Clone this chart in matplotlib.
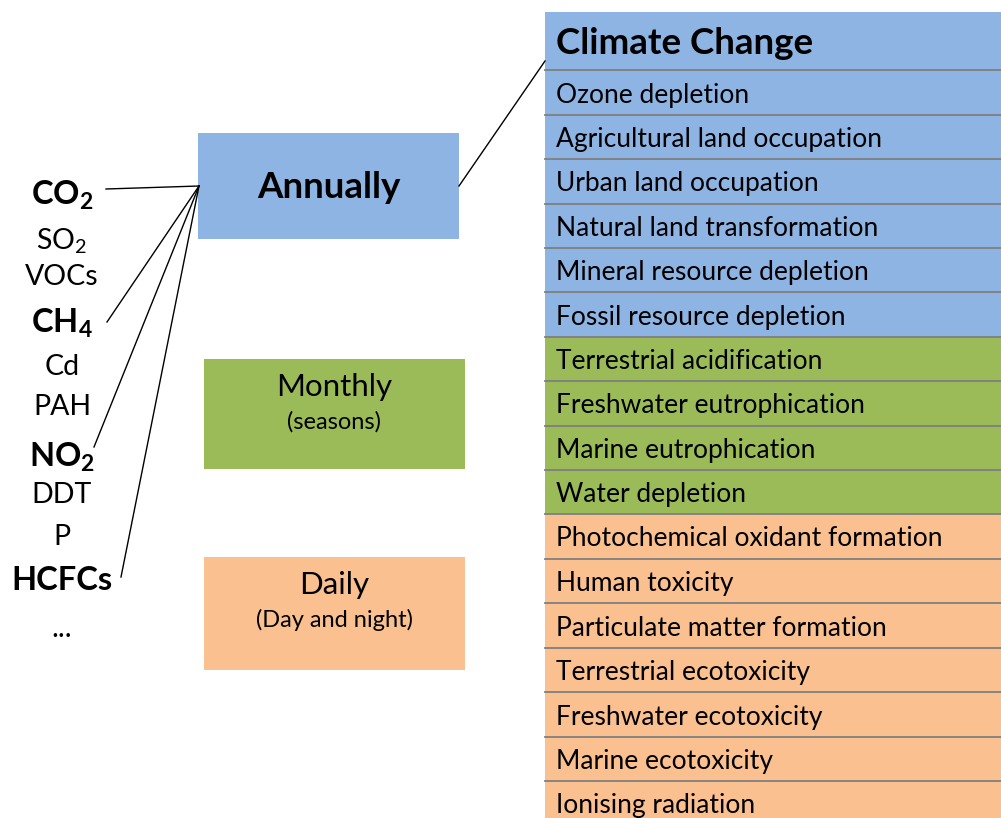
import matplotlib
matplotlib.use("Agg")
import matplotlib.pyplot as plt
from matplotlib.patches import Rectangle

plt.rcParams['font.family'] = ['Lato', 'DejaVu Sans']
plt.rcParams['mathtext.fontset'] = 'custom'
plt.rcParams['mathtext.rm'] = 'Lato'
plt.rcParams['mathtext.bf'] = 'Lato:bold'
plt.rcParams['mathtext.it'] = 'Lato:italic'

# ---- data ----
pollutants = [r'$\mathbf{CO_2}$', r'SO$_2$', 'VOCs', r'$\mathbf{CH_4}$', 'Cd', 'PAH',
              r'$\mathbf{NO_2}$', 'DDT', 'P', 'HCFCs', '...']
pollutant_bold = [True, False, False, True, False, False, True, False, False, True, False]
linked = [0, 3, 6, 9]  # pollutants connected to the "Annually" box

timescales = ['Annually', 'Monthly', 'Daily']
timescale_sub = ['', '(seasons)', '(Day and night)']

impacts = ['Climate Change', 'Ozone depletion', 'Agricultural land occupation',
           'Urban land occupation', 'Natural land transformation',
           'Mineral resource depletion', 'Fossil resource depletion',
           'Terrestrial acidification', 'Freshwater eutrophication',
           'Marine eutrophication', 'Water depletion',
           'Photochemical oxidant formation', 'Human toxicity',
           'Particulate matter formation', 'Terrestrial ecotoxicity',
           'Freshwater ecotoxicity', 'Marine ecotoxicity', 'Ionising radiation']
impact_group = [0]*7 + [1]*4 + [2]*7

colors = ['#8EB4E3', '#9BBB59', '#FAC090']

# ---- layout ----
fig = plt.figure(figsize=(10.01, 8.18), dpi=100)
ax = fig.add_axes([0, 0, 1, 1])
ax.set_xlim(0, 1001)
ax.set_ylim(818, 0)
ax.axis('off')

# pollutant list
poll_y = [195, 241, 277, 323, 367, 407, 457, 495, 537, 581, 629]
for lab, b, y in zip(pollutants, pollutant_bold, poll_y):
    ax.text(62, y, lab, ha='center', va='center', fontsize=23.5 if b else 20.5,
            fontweight='bold' if b else 'normal', color='black')

# lines from pollutants to Annually box
line_start = {0: (106, 189), 3: (107, 322), 6: (94, 447), 9: (121, 577)}
conv = (199, 186)
for i in linked:
    x0, y0 = line_start[i]
    ax.plot([x0, conv[0]], [y0, conv[1]], color='black', lw=1.0)

# timescale boxes
boxes = [(198, 133, 261, 106), (204, 359, 261, 110), (204, 557, 261, 113)]
for (bx, by, bw, bh), name, sub, c in zip(boxes, timescales, timescale_sub, colors):
    ax.add_patch(Rectangle((bx, by), bw, bh, facecolor=c, edgecolor='none'))
    cx = bx + bw / 2
    if sub:
        ax.text(cx, by + 28, name, ha='center', va='center', fontsize=22.5)
        ax.text(cx, by + 63, sub, ha='center', va='center', fontsize=17)
    else:
        ax.text(cx, by + bh / 2 + 2, name, ha='center', va='center',
                fontsize=26.5, fontweight='bold')

# connector Annually -> table
ax.plot([459, 545], [186, 61], color='black', lw=1.0)

# impact table
tx0, tx1 = 545, 1001
edges = [12, 70, 115, 159, 204, 248, 292, 337, 381, 426, 470, 514, 559,
         603, 648, 692, 737, 781, 826]
for k, (lab, g) in enumerate(zip(impacts, impact_group)):
    y0, y1 = edges[k], edges[k + 1]
    ax.add_patch(Rectangle((tx0, y0), tx1 - tx0, y1 - y0, facecolor=colors[g],
                           edgecolor='none'))
    if k == 0:
        ax.text(556, (y0 + y1) / 2 + 2, lab, ha='left', va='center',
                fontsize=26.5, fontweight='bold')
    else:
        ax.text(556, (y0 + y1) / 2 + 2.5, lab, ha='left', va='center', fontsize=19)
for y in edges[1:-1]:
    ax.plot([tx0, tx1], [y, y], color='#7F7F7F', lw=1.3)

fig.savefig('out.png', dpi=100)
